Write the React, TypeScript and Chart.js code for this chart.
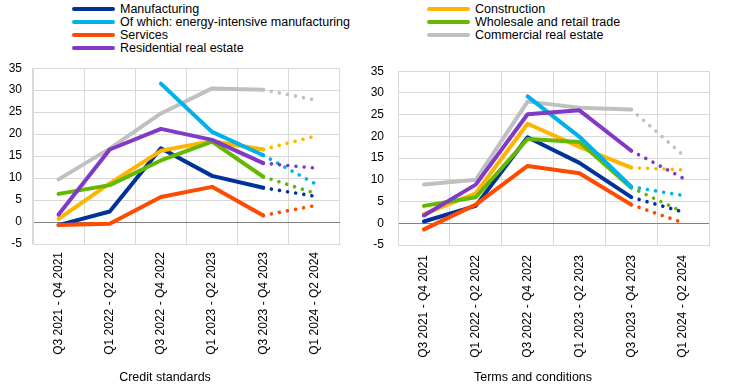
import React, { useEffect, useRef } from "react";
import { Chart, registerables } from "chart.js";

Chart.register(...registerables);

const categories = [
  "Q3 2021 - Q4 2021",
  "Q1 2022 - Q2 2022",
  "Q3 2022 - Q4 2022",
  "Q1 2023 - Q2 2023",
  "Q3 2023 - Q4 2023",
  "Q1 2024 - Q2 2024",
];

const yTicks = [-5, 0, 5, 10, 15, 20, 25, 30, 35];

// Credit standards
const manufacturingCS = [-0.7, 2.4, 16.8, 10.5, 7.8, 5.9];
const energyCS = [null, null, 31.5, 20.5, 15.2, 8.8];
const servicesCS = [-0.7, -0.4, 5.7, 8.0, 1.5, 3.7];
const residentialCS = [1.7, 16.5, 21.2, 18.7, 13.4, 12.3];
const constructionCS = [0.7, 8.8, 16.2, 18.4, 16.5, 19.5];
const wholesaleCS = [6.4, 8.4, 14.0, 18.3, 10.3, 6.6];
const commercialCS = [9.7, 16.7, 24.7, 30.4, 30.1, 27.8];

// Terms and conditions
const manufacturingTC = [0.4, 4.0, 19.8, 13.9, 6.0, 2.6];
const energyTC = [null, null, 29.2, 19.9, 8.4, 6.4];
const servicesTC = [-1.4, 4.3, 13.2, 11.5, 4.3, 0.1];
const residentialTC = [1.8, 8.9, 25.1, 26.0, 16.7, 10.4];
const constructionTC = [2.1, 6.9, 22.9, 17.6, 12.8, 12.3];
const wholesaleTC = [4.0, 6.0, 19.4, 18.7, 8.2, 2.6];
const commercialTC = [8.9, 10.0, 28.0, 26.6, 26.2, 15.7];

const seriesNames = [
  "Manufacturing",
  "Of which: energy-intensive manufacturing",
  "Services",
  "Residential real estate",
  "Construction",
  "Wholesale and retail trade",
  "Commercial real estate",
];

const seriesColors = [
  "#003299",
  "#00B1EA",
  "#FF4B00",
  "#8139C6",
  "#FFB400",
  "#65B800",
  "#C0C0C0",
];

// drawing order (bottom to top)
const drawOrder = [6, 0, 4, 5, 2, 1, 3];

const FONT = "'Liberation Sans', Arial, sans-serif";

function buildConfig(
  values: (number | null)[][],
  opts: { yWidth: number; xHeight: number; padTop: number; padRight: number; yPad: number; xPad: number }
): any {
  const datasets = drawOrder
    .slice()
    .reverse()
    .map((i) => ({
      label: seriesNames[i],
      data: values[i],
      borderColor: seriesColors[i],
      backgroundColor: seriesColors[i],
      borderWidth: 4,
      borderCapStyle: "round",
      borderJoinStyle: "round",
      pointRadius: 0,
      pointHoverRadius: 0,
      tension: 0,
      fill: false,
      segment: {
        borderDash: (ctx: any) => (ctx.p0DataIndex >= 4 ? [0.01, 8.2] : undefined),
        borderWidth: (ctx: any) => (ctx.p0DataIndex >= 4 ? 3.6 : undefined),
      },
    }));
  return {
    type: "line",
    data: { labels: categories, datasets },
    options: {
      animation: false,
      responsive: false,
      maintainAspectRatio: false,
      events: [],
      layout: { padding: { top: opts.padTop, right: opts.padRight, left: 0, bottom: 0 } },
      plugins: { legend: { display: false }, tooltip: { enabled: false } },
      scales: {
        x: {
          type: "category",
          offset: true,
          afterFit: (s: any) => {
            s.height = opts.xHeight;
          },
          grid: { offset: true, color: "#d9d9d9", lineWidth: 1, drawTicks: false },
          border: { display: true, color: "#d9d9d9" },
          ticks: {
            autoSkip: false,
            maxRotation: 90,
            minRotation: 90,
            padding: opts.xPad,
            color: "#000",
            font: { family: FONT, size: 12 },
          },
        },
        y: {
          min: -5,
          max: 35,
          afterFit: (s: any) => {
            s.width = opts.yWidth;
          },
          afterBuildTicks: (s: any) => {
            s.ticks = yTicks.map((v) => ({ value: v }));
          },
          grid: {
            color: (ctx: any) => (ctx.tick && ctx.tick.value === 0 ? "#808080" : "#d9d9d9"),
            lineWidth: 1,
            drawTicks: false,
          },
          border: { display: true, color: "#d9d9d9" },
          ticks: {
            padding: opts.yPad,
            color: "#000",
            font: { family: FONT, size: 12 },
          },
        },
      },
    },
  };
}

function LineChart(props: {
  values: (number | null)[][];
  left: number;
  width: number;
  yWidth: number;
  xHeight: number;
  padTop: number;
  padRight: number;
  yPad: number;
  xPad: number;
}) {
  const ref = useRef<HTMLCanvasElement | null>(null);
  useEffect(() => {
    if (!ref.current) return;
    const chart = new Chart(
      ref.current,
      buildConfig(props.values, {
        yWidth: props.yWidth,
        xHeight: props.xHeight,
        padTop: props.padTop,
        padRight: props.padRight,
        yPad: props.yPad,
        xPad: props.xPad,
      })
    );
    return () => chart.destroy();
  }, []);
  return (
    <canvas
      ref={ref}
      width={props.width}
      height={338}
      style={{ position: "absolute", left: props.left, top: 50, width: props.width, height: 338 }}
    />
  );
}

function LegendItem(props: { x: number; y: number; color: string; label: string }) {
  return (
    <div style={{ position: "absolute", left: props.x, top: props.y - 8, height: 16, whiteSpace: "nowrap" }}>
      <div
        style={{
          position: "absolute",
          left: 0,
          top: 6,
          width: 43,
          height: 4,
          borderRadius: 2,
          background: props.color,
        }}
      />
      <div
        style={{
          position: "absolute",
          left: 48,
          top: 0,
          lineHeight: "16px",
          fontSize: 12.5,
          fontFamily: FONT,
          color: "#000",
        }}
      >
        {props.label}
      </div>
    </div>
  );
}

export default function App() {
  const cs = [manufacturingCS, energyCS, servicesCS, residentialCS, constructionCS, wholesaleCS, commercialCS];
  const tc = [manufacturingTC, energyTC, servicesTC, residentialTC, constructionTC, wholesaleTC, commercialTC];
  const rowsY = [9, 22, 34.5, 47.5];
  return (
    <div
      style={{
        position: "absolute",
        left: 0,
        top: 0,
        width: 744,
        height: 388,
        background: "#fff",
        overflow: "hidden",
      }}
    >
      {[0, 1, 2, 3].map((i) => (
        <LegendItem key={"l" + i} x={72} y={rowsY[i]} color={seriesColors[i]} label={seriesNames[i]} />
      ))}
      {[4, 5, 6].map((i) => (
        <LegendItem key={"r" + i} x={427} y={rowsY[i - 4]} color={seriesColors[i]} label={seriesNames[i]} />
      ))}
      <LineChart values={cs} left={0} width={348} yWidth={33} xHeight={144} padTop={12} padRight={8} yPad={11} xPad={8} />
      <LineChart values={tc} left={360} width={384} yWidth={38} xHeight={143} padTop={14} padRight={35} yPad={14} xPad={10} />
      <div
        style={{
          position: "absolute",
          left: 65,
          width: 200,
          top: 369,
          textAlign: "center",
          fontSize: 12.5,
          lineHeight: "16px",
          fontFamily: FONT,
          color: "#000",
        }}
      >
        Credit standards
      </div>
      <div
        style={{
          position: "absolute",
          left: 433,
          width: 200,
          top: 369,
          textAlign: "center",
          fontSize: 12.5,
          lineHeight: "16px",
          fontFamily: FONT,
          color: "#000",
        }}
      >
        Terms and conditions
      </div>
    </div>
  );
}
